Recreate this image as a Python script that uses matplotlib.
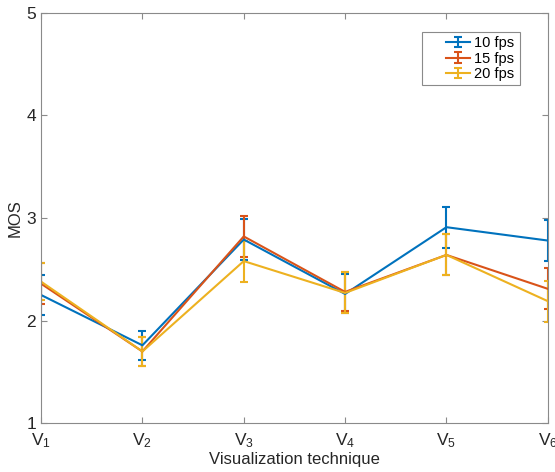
# MOS vs visualization technique, errorbars per frame rate
import numpy as np
import matplotlib as mpl
import matplotlib.pyplot as plt
from matplotlib.legend_handler import HandlerErrorbar
from matplotlib.container import ErrorbarContainer

mpl.rcParams['font.family'] = ['Liberation Sans', 'DejaVu Sans']
mpl.rcParams['mathtext.fontset'] = 'custom'
mpl.rcParams['mathtext.rm'] = 'Liberation Sans'
mpl.rcParams['mathtext.default'] = 'regular'

techniques = ['V$_1$', 'V$_2$', 'V$_3$', 'V$_4$', 'V$_5$', 'V$_6$']
series_names = ['10 fps', '15 fps', '20 fps']
mos_10 = [2.25, 1.76, 2.79, 2.26, 2.91, 2.78]
mos_15 = [2.36, 1.70, 2.82, 2.28, 2.64, 2.31]
mos_20 = [2.38, 1.70, 2.58, 2.27, 2.64, 2.19]
err_10 = [0.19, 0.14, 0.20, 0.19, 0.20, 0.20]
err_15 = [0.20, 0.14, 0.20, 0.19, 0.20, 0.20]
err_20 = [0.18, 0.14, 0.20, 0.20, 0.20, 0.20]

colors = ['#0072BD', '#D95319', '#EDB120']
grey = '#8a8a8a'

x = np.arange(1, len(techniques) + 1)

fig = plt.figure(figsize=(5.55, 4.72), dpi=100)
ax = fig.add_axes([0.074, 0.103, 0.913, 0.8705])

for mos, err, name, c in zip([mos_10, mos_15, mos_20], [err_10, err_15, err_20], series_names, colors):
    ax.errorbar(x, mos, yerr=err, color=c, linewidth=1.5, elinewidth=1.5,
                capsize=3, capthick=1.5, label=name)

ax.set_xlim(1, 6)
ax.set_ylim(1, 5)
ax.set_xticks(x)
ax.set_xticklabels(techniques, fontsize=12.5)
ax.set_yticks([1, 2, 3, 4, 5])
ax.set_yticklabels(['1', '2', '3', '4', '5'], fontsize=12.5)
ax.tick_params(direction='in', top=True, right=True, colors=grey, labelcolor='#262626',
               length=4, width=0.8)
ax.tick_params(axis='x', pad=6)
for s in ax.spines.values():
    s.set_color(grey)
    s.set_linewidth(0.8)

ax.set_xlabel('Visualization technique', fontsize=12, color='#262626', labelpad=1)
ax.set_ylabel('MOS', fontsize=12, color='#262626', labelpad=3)

# MATLAB-like legend box: wide left margin before the handle, extra room on the right
leg = ax.legend(loc='upper left', bbox_to_anchor=(0.751, 0.831, 0.195, 0.122),
                mode='expand', fontsize=10.5,
                fancybox=False, edgecolor=grey, framealpha=1, handlelength=3.0,
                borderpad=0.3, labelspacing=0.1, handletextpad=0.3,
                borderaxespad=0,
                handler_map={ErrorbarContainer: HandlerErrorbar(xpad=1.4, yerr_size=0.35)})
leg.get_frame().set_linewidth(0.8)

fig.savefig('out.png', dpi=100)
